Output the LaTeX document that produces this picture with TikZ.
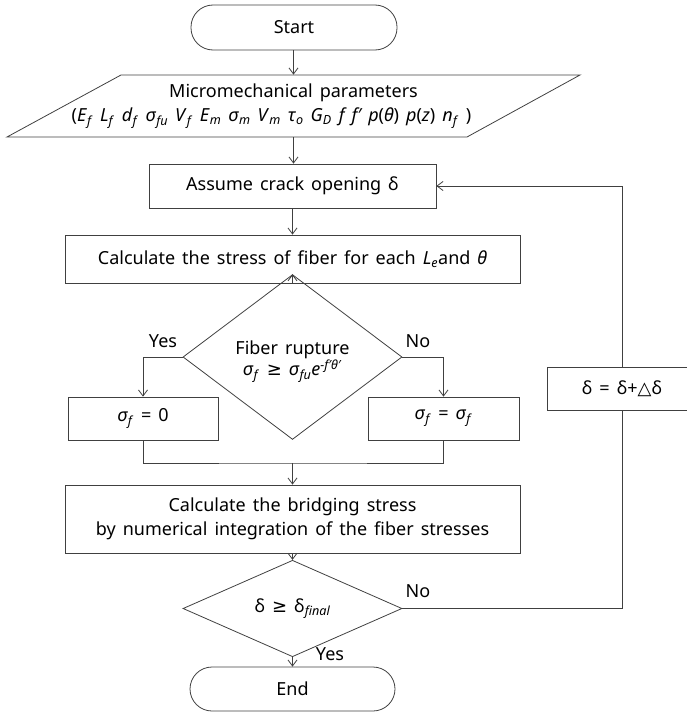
\documentclass[tikz,border=0pt]{standalone}
\usepackage{fontspec}
\setmainfont[WordSpace=1.5]{Noto Sans}
\newfontfamily\symfont{DejaVu Sans}
\usetikzlibrary{shapes.geometric,arrows.meta}
\newcommand\vsub[2]{\textit{#1}\textsubscript{\textit{#2}}}
\begin{document}
\begin{tikzpicture}[x=1pt,y=-1pt,
  line/.style={draw=black!75,line width=0.8pt},
  arrow/.style={line,-{Straight Barb[length=6pt,width=9pt]}},
  box/.style={line,rectangle,inner sep=0pt,align=center,font=\fontsize{18}{24}\selectfont},
  term/.style={box,rounded corners=22pt},
  decision/.style={line,diamond,inner sep=0pt,align=center,font=\fontsize{18}{22}\selectfont},
  lbl/.style={font=\fontsize{18}{20}\selectfont,inner sep=0pt}]
\useasboundingbox (0,0) rectangle (687,712);

% terminals and process boxes
\node[term,minimum width=206pt,minimum height=45pt] (start) at (294,27.5) {Start};
\node[box,draw=none,minimum width=400pt,minimum height=62pt] (params) at (293.5,106)
  {Micromechanical parameters\\
   (\vsub{E}{f} \vsub{L}{f} \vsub{d}{f} \vsub{σ}{fu} \vsub{V}{f} \vsub{E}{m} \vsub{σ}{m} \vsub{V}{m} \vsub{τ}{o} \vsub{G}{D} \textit{f f′ p}(\textit{θ}) \textit{p}(\textit{z}) \vsub{n}{f} )\hspace*{44pt}};
\draw[line] (121,75) -- (580,75) -- (467,137) -- (7,137) -- cycle;
\node[box,minimum width=287pt,minimum height=44pt] (assume) at (292.5,186) {Assume crack opening δ};
\node[box,minimum width=455pt,minimum height=48pt] (calc) at (292.5,259)
  {Calculate the stress of fiber for each \vsub{L}{e}and \textit{θ}};
\node[decision,minimum width=219pt,minimum height=104pt] (rupt) at (292.5,357)
  {\rule{0pt}{23pt}Fiber rupture\\[-1pt] \vsub{σ}{f} {\symfont ≥} \vsub{σ}{fu}\textit{e}\textsuperscript{\textit{-f′θ′}}};
\node[box,minimum width=150pt,minimum height=43pt] (zero) at (143,418.5) {\vsub{σ}{f} = 0};
\node[box,minimum width=151pt,minimum height=43pt] (keep) at (443.5,418.5) {\vsub{σ}{f} = \vsub{σ}{f}};
\node[box,minimum width=150pt,minimum height=43pt] (incr) at (622,388.5) {δ = δ+{\symfont △}δ};
\node[box,minimum width=455pt,minimum height=68pt] (bridge) at (292.5,519)
  {Calculate the bridging stress\\ by numerical integration of the fiber stresses};
\node[decision,minimum width=219pt,minimum height=51pt] (check) at (292.5,608.5)
  {δ {\symfont ≥} δ\textsubscript{\textit{final}}};
\node[term,minimum width=205pt,minimum height=44pt] (end) at (292.5,689) {End};

\coordinate (merge) at (292.5,463);

% connectors
\draw[arrow] (start.south -| params.north) -- (params.north);
\draw[arrow] (params) -- (assume.north -| params.south);
\draw[arrow] (assume) -- (calc);
\draw[arrow] (calc) -- (rupt);
\draw[arrow] (rupt.west) -| (zero.north);
\draw[arrow] (rupt.east) -| (keep.north);
\draw[line] (zero.south) |- (merge) -| (keep.south);
\draw[arrow] (merge) -- (bridge.north);
\draw[arrow] (bridge) -- (check);
\draw[arrow] (check) -- (end);
\draw[line] (check.east) -| (incr.south);
\draw[arrow] (incr.north) |- (assume.east);

% branch labels
\node[lbl] (yes1) at (163,341) {Yes};
\node[lbl] (no1) at (418,341) {No};
\node[lbl] (no2) at (418,591) {No};
\node[lbl] (yes2) at (330,654) {Yes};
\end{tikzpicture}
\end{document}
